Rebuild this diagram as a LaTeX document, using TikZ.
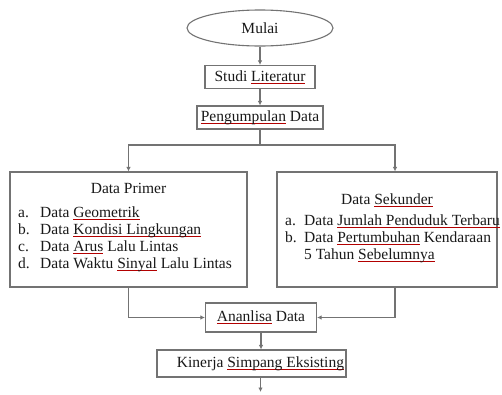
\documentclass[tikz,border=0pt]{standalone}
\usepackage{fontspec}
\setmainfont{Liberation Serif}
\usetikzlibrary{shapes.geometric,arrows.meta,calc}
\newsavebox\rsqbox
\newcommand\rsq[1]{\leavevmode\sbox\rsqbox{#1}\rlap{\textcolor{red!70!black}{\rule[-2.2pt]{\wd\rsqbox}{0.6pt}}}\usebox\rsqbox}
\begin{document}
\begin{tikzpicture}[x=1pt,y=-1pt,
  every node/.style={font=\fontsize{15.5}{17}\selectfont, text=black!90},
  box/.style={draw=black!55, line width=1.1pt, fill=white, inner sep=0pt},
  con/.style={draw=black!55, line width=1.1pt, -{Latex[length=4.5pt,width=4.5pt]}},
  ln/.style={draw=black!55, line width=1.1pt},
  item/.style={anchor=base west, inner sep=0pt}]
\useasboundingbox (0,0) rectangle (502,394);
\node[box, ellipse, minimum width=146pt, minimum height=36pt] (mulai) at (260,28) {Mulai};
\node[box, minimum width=110pt, minimum height=23pt] (studi) at (260,77) {Studi \rsq{Literatur}};
\node[box, minimum width=126pt, minimum height=23pt] (kumpul) at (260,117.5) {\rsq{Pengumpulan} Data};
\node[box, minimum width=237pt, minimum height=115pt] (primer) at (128.5,229.5) {};
\node[box, minimum width=220pt, minimum height=115pt] (sekunder) at (387,229.5) {};
\node[box, minimum width=111pt, minimum height=29pt] (analisa) at (261,317.5) {\rsq{Ananlisa} Data};
\node[box, minimum width=189pt, minimum height=27pt] (kinerja) at (251.5,363.5) {};
\node (kinerjat) at (260.5,363.5) {Kinerja \rsq{Simpang Eksisting}};
% Data Primer
\node (primt) at (128.5,188) {Data Primer};
\node[item] (p1) at (18,217.5) {\makebox[22pt][l]{a.}Data \rsq{Geometrik}};
\node[item] (p2) at (18,234.5) {\makebox[22pt][l]{b.}Data \rsq{Kondisi Lingkungan}};
\node[item] (p3) at (18,251.5) {\makebox[22pt][l]{c.}Data \rsq{Arus} Lalu Lintas};
\node[item] (p4) at (18,268.5) {\makebox[22pt][l]{d.}Data Waktu \rsq{Sinyal} Lalu Lintas};
% Data Sekunder
\node (sekt) at (387,200) {Data \rsq{Sekunder}};
\node[item] (s1) at (285,225.5) {\makebox[19pt][l]{a.}Data \rsq{Jumlah Penduduk Terbaru}};
\node[item] (s2) at (285,242.5) {\makebox[19pt][l]{b.}Data \rsq{Pertumbuhan} Kendaraan};
\node[item] (s3) at (304,259.5) {5 Tahun \rsq{Sebelumnya}};
% connectors
\coordinate (split) at (260,145);
\coordinate (end) at (260.5,392);
\draw[con] (mulai) -- (studi);
\draw[con] (studi) -- (kumpul);
\draw[ln] (kumpul) -- (split);
\draw[con] (split) -| (primer.north);
\draw[con] (split) -| ($(sekunder.north)+(8,0)$);
\draw[con] (primer.south) |- (analisa.west);
\draw[con] ($(sekunder.south)+(8,0)$) |- (analisa.east);
\draw[con] (analisa.south) -- (analisa.south |- kinerja.north);
\draw[con] (kinerja.south -| end) -- (end);
\end{tikzpicture}
\end{document}
